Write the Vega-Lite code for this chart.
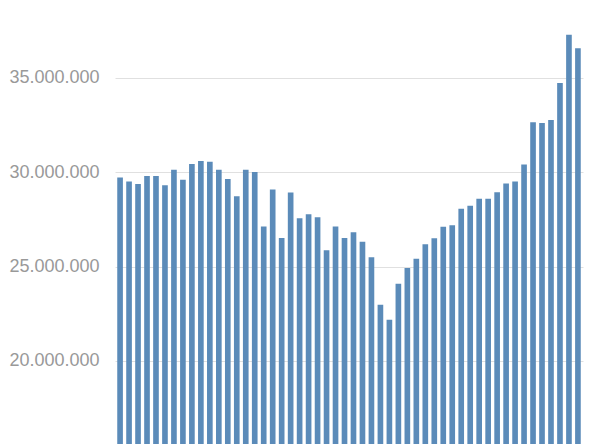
{
  "$schema": "https://vega.github.io/schema/vega-lite/v6.json",
  "width": 468,
  "height": 444,
  "autosize": {"type": "none"},
  "padding": {"left": 115, "top": 0, "right": 17, "bottom": 0},
  "background": "white",
  "config": {
    "view": {"stroke": null},
    "locale": {"number": {"decimal": ",", "thousands": ".", "grouping": [3], "currency": ["", " €"]}}
  },
  "data": {
    "values": [
      {"i": 1, "v": 29720000}, {"i": 2, "v": 29520000}, {"i": 3, "v": 29380000}, {"i": 4, "v": 29800000},
      {"i": 5, "v": 29800000}, {"i": 6, "v": 29310000}, {"i": 7, "v": 30140000}, {"i": 8, "v": 29610000},
      {"i": 9, "v": 30440000}, {"i": 10, "v": 30600000}, {"i": 11, "v": 30560000}, {"i": 12, "v": 30140000},
      {"i": 13, "v": 29650000}, {"i": 14, "v": 28730000}, {"i": 15, "v": 30140000}, {"i": 16, "v": 30020000},
      {"i": 17, "v": 27130000}, {"i": 18, "v": 29090000}, {"i": 19, "v": 26520000}, {"i": 20, "v": 28930000},
      {"i": 21, "v": 27560000}, {"i": 22, "v": 27780000}, {"i": 23, "v": 27620000}, {"i": 24, "v": 25870000},
      {"i": 25, "v": 27130000}, {"i": 26, "v": 26520000}, {"i": 27, "v": 26830000}, {"i": 28, "v": 26320000},
      {"i": 29, "v": 25500000}, {"i": 30, "v": 22980000}, {"i": 31, "v": 22190000}, {"i": 32, "v": 24090000},
      {"i": 33, "v": 24930000}, {"i": 34, "v": 25420000}, {"i": 35, "v": 26190000}, {"i": 36, "v": 26500000},
      {"i": 37, "v": 27120000}, {"i": 38, "v": 27190000}, {"i": 39, "v": 28070000}, {"i": 40, "v": 28230000},
      {"i": 41, "v": 28600000}, {"i": 42, "v": 28600000}, {"i": 43, "v": 28950000}, {"i": 44, "v": 29410000},
      {"i": 45, "v": 29510000}, {"i": 46, "v": 30410000}, {"i": 47, "v": 32660000}, {"i": 48, "v": 32620000},
      {"i": 49, "v": 32780000}, {"i": 50, "v": 34740000}, {"i": 51, "v": 37290000}, {"i": 52, "v": 36570000}
    ]
  },
  "mark": {"type": "bar", "color": "#5b8bb9", "clip": true},
  "encoding": {
    "x": {
      "field": "i", "type": "ordinal",
      "scale": {"paddingInner": 0.37, "paddingOuter": 0.25},
      "axis": null
    },
    "y": {
      "field": "v", "type": "quantitative",
      "scale": {"domain": [15600000, 39134000], "zero": false, "nice": false},
      "axis": {
        "title": null,
        "values": [20000000, 25000000, 30000000, 35000000],
        "format": ",d",
        "domain": false,
        "ticks": false,
        "grid": true,
        "gridColor": "#e0e0e0",
        "gridWidth": 1,
        "labelFont": "Liberation Sans",
        "labelFontSize": 18,
        "labelColor": "#999999",
        "labelPadding": 16
      }
    }
  }
}
